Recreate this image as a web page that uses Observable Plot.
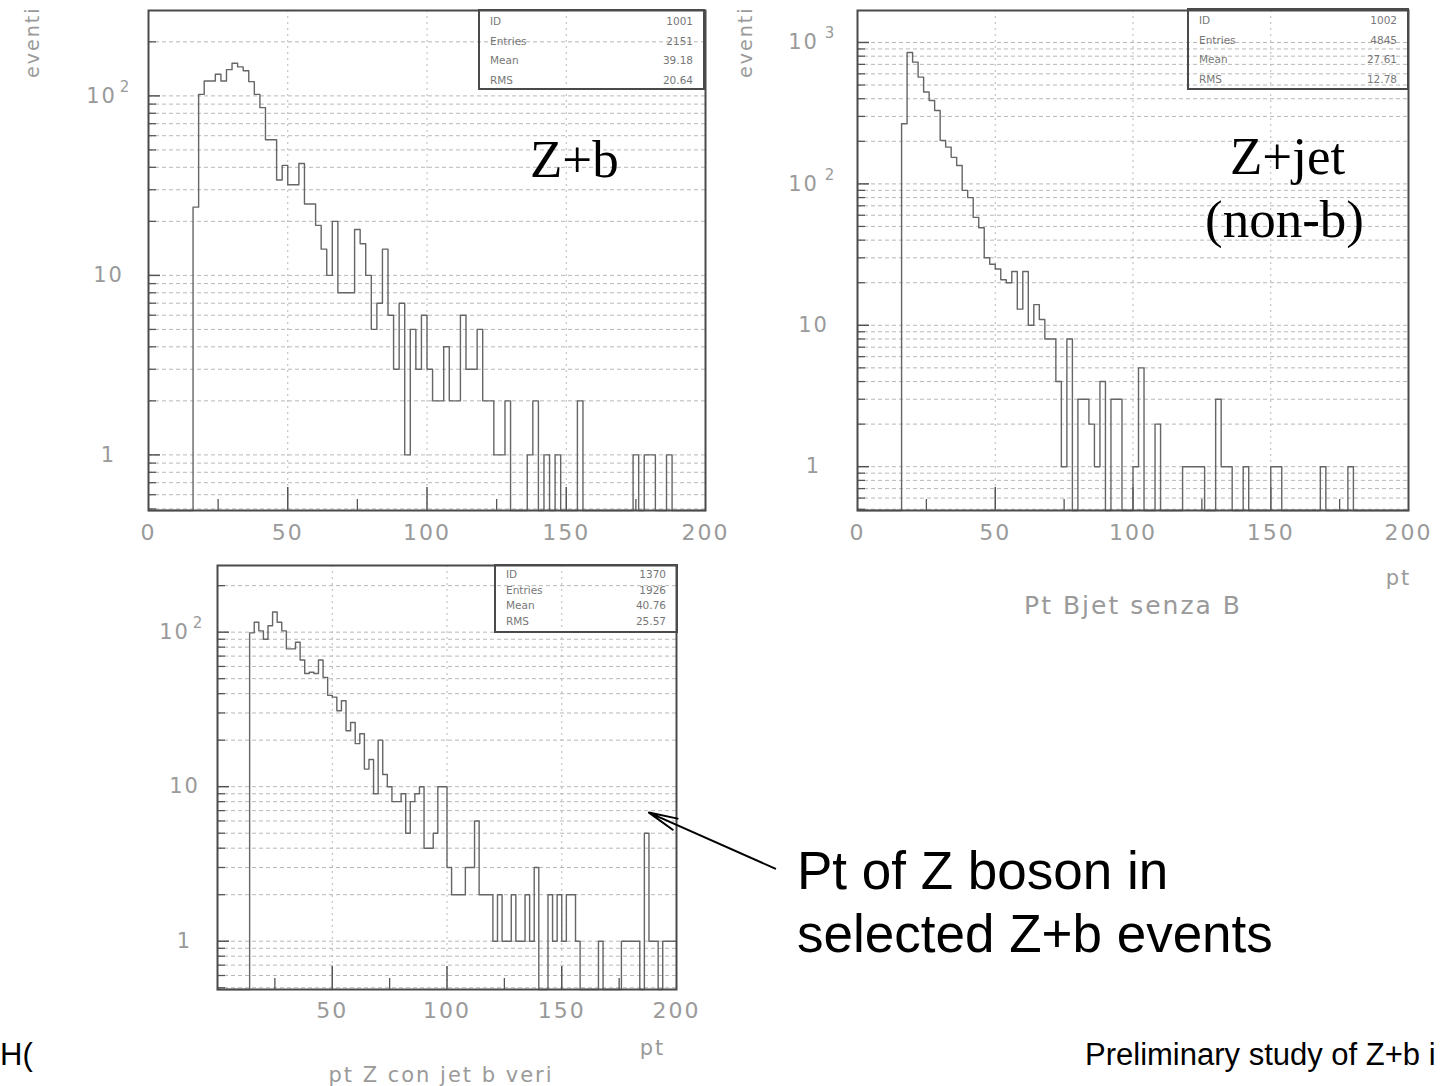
<!DOCTYPE html>
<html>
<head>
<meta charset="utf-8">
<script src="https://cdn.jsdelivr.net/npm/d3@7"></script>
<script src="https://cdn.jsdelivr.net/npm/@observablehq/plot@0.6"></script>
<style>
  html, body { margin: 0; padding: 0; background: #fff; }
  #page { position: relative; width: 1442px; height: 1086px; overflow: hidden; background: #fff; }
  .panel { position: absolute; }
  .stats { position: absolute; border: 2px solid #4a4a4a; box-sizing: border-box;
           font-family: "DejaVu Sans", sans-serif; font-size: 10.5px; color: #777; }
  .stats .row { position: absolute; left: 10px; right: 10px; display: flex; justify-content: space-between; }
  .slide { position: absolute; white-space: nowrap; color: #000; }
  .serif { font-family: "Liberation Serif", "Times New Roman", serif; font-size: 53px; line-height: 63px; }
  .sans { font-family: "Liberation Sans", Arial, sans-serif; }
</style>
</head>
<body>
<div id="page"></div>
<script>
// ---------- DATA ----------
// left bin edges (2 GeV bins from 0 to 200)
const binEdges = [0,2,4,6,8,10,12,14,16,18,20,22,24,26,28,30,32,34,36,38,
  40,42,44,46,48,50,52,54,56,58,60,62,64,66,68,70,72,74,76,78,
  80,82,84,86,88,90,92,94,96,98,100,102,104,106,108,110,112,114,116,118,
  120,122,124,126,128,130,132,134,136,138,140,142,144,146,148,150,152,154,156,158,
  160,162,164,166,168,170,172,174,176,178,180,182,184,186,188,190,192,194,196,198];
const xMax = 200;

// Z+b : Pt Bjet (ID 1001)
const zbCounts = [0,0,0,0,0,0,0,0,24,102,121,121,132,121,140,152,145,138,120,102,
  86,57,57,34,41,32,32,42,25,25,19,14,10,20,8,8,8,18,15,10,
  5,7,14,6,3,7,1,5,3,6,3,2,2,4,2,2,6,3,3,5,
  2,2,1,1,2,0,0,0,1,2,0,1,0,1,0,0,0,2,0,0,
  0,0,0,0,0,0,0,1,0,1,1,0,0,1,0,0,0,0,0,0];

// Z+jet (non-b) : Pt Bjet senza B (ID 1002)
const zjCounts = [0,0,0,0,0,0,0,0,266,850,726,569,446,389,330,203,182,154,135,90,
  80,58,49,30,27,25,21,20,24,13,24,10,14,11,8,8,4,1,8,0,
  3,3,2,1,4,0,3,3,0,0,1,5,0,0,2,0,0,0,0,1,
  1,1,1,0,0,3,1,1,0,0,1,0,0,0,0,1,1,0,0,0,
  0,0,0,0,1,0,0,0,0,1,0,0,0,0,0,0,0,0,0,0];

// pt Z con jet b veri (ID 1370)
const zptCounts = [0,0,0,0,0,0,0,99,116,102,90,110,135,116,102,78,78,86,66,54,
  55,54,66,51,39,38,31,36,23,26,19,22,13,15,9,20,12,10,8,8,
  9,5,8,9,10,4,4,5,10,10,3,2,2,2,3,3,6,2,2,2,
  1,2,1,1,2,1,1,2,1,3,0,0,2,1,2,1,2,2,1,0,
  0,0,0,1,0,0,0,0,1,1,1,1,0,5,1,1,0,1,1,1];

const statLabels = ["ID", "Entries", "Mean", "RMS"];
const zbStats  = ["1001", "2151", "39.18", "20.64"];
const zjStats  = ["1002", "4845", "27.61", "12.78"];
const zptStats = ["1370", "1926", "40.76", "25.57"];

const xTicksTop = [0, 50, 100, 150, 200];
const xTicksBottom = [50, 100, 150, 200];
const xMajor = [50, 100, 150];
const xMinor = [25, 75, 125, 175];
const yTicks12 = [1, 10, 100];
const yTicks123 = [1, 10, 100, 1000];

// arrow annotation (data units of the bottom panel)
const arrowNote = [{x1: 243, y1: 2.95, x2: 188, y2: 6.8}];

// ---------- HELPERS ----------
const gray = "#9a9a9a";
const expo = v => Math.round(Math.log10(v));

function histPanel(o) {
  const yMin = o.yDomain[0];
  const pts = binEdges.map((x, i) => ({x, n: o.counts[i]}));
  pts.push({x: xMax, n: o.counts[o.counts.length - 1]});
  const grid = d3.scaleLog().domain(o.yDomain).ticks();
  const frameH = o.height - o.marginTop - o.marginBottom;
  const frameW = o.width - o.marginLeft - o.marginRight;
  const majorSet = new Set(o.yTicks);
  const plain = o.yTicks.filter(v => v < 100);
  const powers = o.yTicks.filter(v => v >= 100);
  const marks = [
    Plot.ruleY(grid, {stroke: "#b8b8b8", strokeWidth: 1, strokeDasharray: "4,3"}),
    Plot.ruleX(xMajor, {stroke: "#b8b8b8", strokeWidth: 1, strokeDasharray: "2,4"}),
    Plot.ruleY(grid.filter(v => !majorSet.has(v)), {insetRight: frameW - 8, stroke: "#555", strokeWidth: 1.3}),
    Plot.ruleY(o.yTicks, {insetRight: frameW - 12, stroke: "#555", strokeWidth: 1.5}),
    Plot.ruleX(xMinor, {insetTop: frameH - 11, stroke: "#555", strokeWidth: 1.3}),
    Plot.ruleX(xMajor, {insetTop: frameH - 23, stroke: "#555", strokeWidth: 1.5}),
    Plot.line(pts, {x: "x", y: d => d.n > 0 ? d.n : yMin, curve: "step-after",
                    stroke: "#666", strokeWidth: 1.4}),
    Plot.frame({stroke: "#4a4a4a", strokeWidth: 2}),
    Plot.text(o.xTicks, {x: d => d, frameAnchor: "bottom", lineAnchor: "middle", textAnchor: "middle",
                         dy: o.xLabelDy, text: d => String(d), fill: gray, fontSize: 22}),
    Plot.text(plain, {y: d => d, frameAnchor: "left", textAnchor: "middle", dx: o.yLabelDx,
                      text: d => String(d), fill: gray, fontSize: 21}),
    Plot.text(powers, {y: d => d, frameAnchor: "left", textAnchor: "middle", dx: o.yBaseDx,
                       text: () => "10", fill: gray, fontSize: 21}),
    Plot.text(powers, {y: d => d, frameAnchor: "left", textAnchor: "middle", dx: o.ySupDx, dy: -9,
                       text: d => String(expo(d)), fill: gray, fontSize: 15})
  ];
  if (o.yTitle) marks.push(Plot.text([o.yTitle], {frameAnchor: "top-left", dx: o.yTitleDx, dy: -4,
      rotate: -90, textAnchor: "end", lineAnchor: "middle", text: d => d, fill: gray, fontSize: 19}));
  if (o.unit) marks.push(Plot.text([o.unit], {frameAnchor: "bottom-right", textAnchor: "middle", lineAnchor: "middle",
      dx: o.unitDx, dy: o.unitDy, text: d => d, fill: gray, fontSize: 21}));
  if (o.xTitle) marks.push(Plot.text([o.xTitle], {frameAnchor: "bottom", textAnchor: "middle", lineAnchor: "middle",
      dx: o.xTitleDx, dy: o.xTitleDy, text: d => d, fill: gray, fontSize: o.xTitleSize}));
  if (o.extra) marks.push(...o.extra);
  return Plot.plot({
    width: o.width, height: o.height,
    marginTop: o.marginTop, marginBottom: o.marginBottom,
    marginLeft: o.marginLeft, marginRight: o.marginRight,
    x: {domain: [0, xMax], axis: null},
    y: {type: "log", domain: o.yDomain, axis: null},
    style: {fontFamily: "DejaVu Sans, sans-serif", letterSpacing: "2px", background: "transparent", overflow: "visible"},
    marks
  });
}

function place(el, left, top) {
  const d = document.createElement("div");
  d.className = "panel";
  d.style.left = left + "px"; d.style.top = top + "px";
  d.appendChild(el);
  document.getElementById("page").appendChild(d);
}

function statsBox(values, box) {
  const d = document.createElement("div");
  d.className = "stats";
  Object.assign(d.style, {left: box.left + "px", top: box.top + "px", width: box.w + "px", height: box.h + "px"});
  statLabels.forEach((lab, i) => {
    const r = document.createElement("div");
    r.className = "row";
    r.style.top = (box.row0 + i * box.step) + "px";
    r.innerHTML = `<span>${lab}</span><span>${values[i]}</span>`;
    d.appendChild(r);
  });
  document.getElementById("page").appendChild(d);
}

function slideText(html, cls, left, top, extra) {
  const d = document.createElement("div");
  d.className = "slide " + cls;
  d.style.left = left + "px"; d.style.top = top + "px";
  if (extra) Object.assign(d.style, extra);
  d.innerHTML = html;
  document.getElementById("page").appendChild(d);
}

// ---------- PANELS ----------
// Z+b
place(histPanel({
  counts: zbCounts, yDomain: [0.49, 299], yTicks: yTicks12,
  width: 730, height: 560, marginTop: 10, marginBottom: 50, marginLeft: 148, marginRight: 25,
  xTicks: xTicksTop, xLabelDy: 22, yLabelDx: -40, yBaseDx: -47, ySupDx: -23,
  yTitle: "eventi", yTitleDx: -116
}), 0, 0);

// Z+jet (non-b)
place(histPanel({
  counts: zjCounts, yDomain: [0.49, 1683], yTicks: yTicks123,
  width: 712, height: 620, marginTop: 10, marginBottom: 110, marginLeft: 127, marginRight: 34,
  xTicks: xTicksTop, xLabelDy: 22, yLabelDx: -44, yBaseDx: -54, ySupDx: -27,
  yTitle: "eventi", yTitleDx: -112,
  unit: "pt", unitDx: -10, unitDy: 68,
  xTitle: "Pt Bjet senza B", xTitleDx: 0, xTitleDy: 95, xTitleSize: 25
}), 730, 0);

// pt Z in Z+b
place(histPanel({
  counts: zptCounts, yDomain: [0.487, 270], yTicks: yTicks12,
  width: 660, height: 531, marginTop: 10, marginBottom: 97, marginLeft: 77, marginRight: 124,
  xTicks: xTicksBottom, xLabelDy: 21, yLabelDx: -33, yBaseDx: -43, ySupDx: -19,
  unit: "pt", unitDx: -24, unitDy: 59,
  xTitle: "pt Z con jet b veri", xTitleDx: -6, xTitleDy: 86, xTitleSize: 21,
  extra: [Plot.arrow(arrowNote, {x1: "x1", y1: "y1", x2: "x2", y2: "y2", stroke: "#000",
                                 strokeWidth: 2, headLength: 22, headAngle: 24})]
}), 140, 555);

// stats boxes
statsBox(zbStats,  {left: 478, top: 9,   w: 227, h: 81, row0: 4, step: 19.5});
statsBox(zjStats,  {left: 1187, top: 8,  w: 222, h: 82, row0: 4, step: 19.5});
statsBox(zptStats, {left: 494, top: 564, w: 184, h: 69, row0: 2, step: 15.5});

// slide annotations
slideText("Z+b", "serif", 530, 128);
slideText("Z+jet", "serif", 1230, 125);
slideText("(non-b)", "serif", 1205, 188);
slideText("Pt of Z boson in<br>selected Z+b events", "sans", 797, 839,
          {fontSize: "53px", lineHeight: "63px"});
slideText("H(", "sans", 0, 1037, {fontSize: "31px"});
slideText("Preliminary study of Z+b i", "sans", 1085, 1037, {fontSize: "31px"});
</script>
</body>
</html>
